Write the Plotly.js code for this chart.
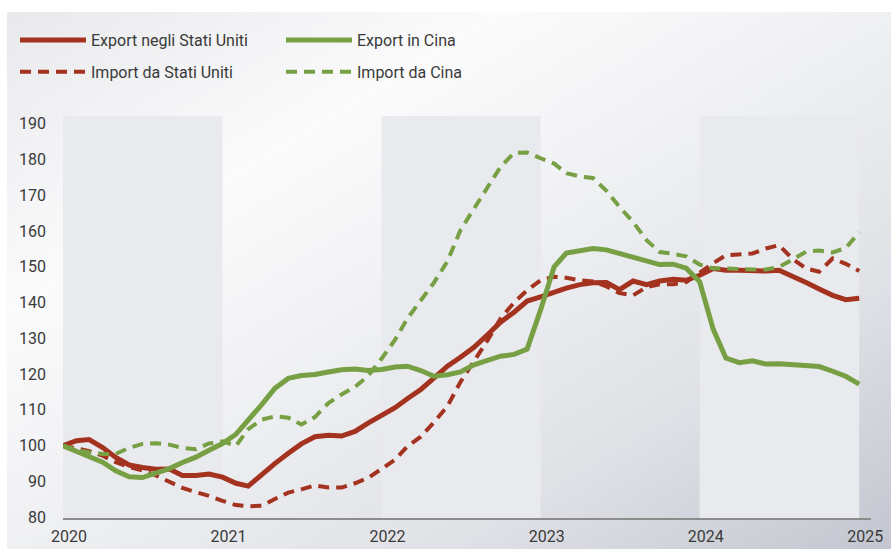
<!DOCTYPE html>
<html><head><meta charset="utf-8">
<script src="https://cdn.plot.ly/plotly-3.0.1.min.js"></script>
<style>
html,body{margin:0;padding:0;background:#fff;}
#wrap{position:relative;width:891px;height:549px;overflow:hidden;}
#bg{position:absolute;left:7px;top:12px;right:0;bottom:0;border-top-left-radius:3px;
background:linear-gradient(to bottom right,#e8e9ec 0%,#fbfbfc 28%,#eff0f2 50%,#dfe1e6 75%,#c3c6cf 100%);}
#chart{position:absolute;left:0;top:0;width:891px;height:549px;}
</style></head>
<body><div id="wrap"><div id="bg"></div><div id="chart"></div></div>
<script>
const months = [
"2020-01-01","2020-02-01","2020-03-01","2020-04-01","2020-05-01","2020-06-01","2020-07-01","2020-08-01","2020-09-01","2020-10-01","2020-11-01","2020-12-01",
"2021-01-01","2021-02-01","2021-03-01","2021-04-01","2021-05-01","2021-06-01","2021-07-01","2021-08-01","2021-09-01","2021-10-01","2021-11-01","2021-12-01",
"2022-01-01","2022-02-01","2022-03-01","2022-04-01","2022-05-01","2022-06-01","2022-07-01","2022-08-01","2022-09-01","2022-10-01","2022-11-01","2022-12-01",
"2023-01-01","2023-02-01","2023-03-01","2023-04-01","2023-05-01","2023-06-01","2023-07-01","2023-08-01","2023-09-01","2023-10-01","2023-11-01","2023-12-01",
"2024-01-01","2024-02-01","2024-03-01","2024-04-01","2024-05-01","2024-06-01","2024-07-01","2024-08-01","2024-09-01","2024-10-01","2024-11-01","2024-12-01",
"2025-01-01"];

const exportUS = [100,101.4,101.7,99.5,96.7,94.6,93.9,93.4,93.5,91.7,91.7,92.1,
91.2,89.5,88.7,92,95,97.9,100.5,102.5,102.9,102.7,104,106.3,
108.6,110.6,113.1,115.7,118.9,122.2,124.7,127.5,131,134.5,137.3,140.4,
141.6,143,144,145,145.5,145.6,143.6,146,145,146,146.5,146.2,
147.6,149.5,149,149,148.8,148.8,149,147.4,145.6,143.8,142,140.8,141.2];

const importUS = [100,99.3,98.5,97.2,95.4,94,93.1,91.7,90,88.2,87,86,
84.6,83.4,83.1,83.2,85.1,86.9,87.8,88.9,88.3,88.3,89.5,91,
93.5,96.1,99.8,102.5,106.5,111,117.8,123.4,129.4,135.5,140,143.4,
146.2,147.2,146.9,146.2,145.9,144.5,142.6,142,144.3,145.1,145.1,145.7,
148.5,151,153.2,153.5,153.7,155.1,156,152.2,149.5,148.6,152.3,150.8,148.8];

const exportCN = [100,98.4,97,95.4,93,91.3,91.1,92.4,93.6,95.3,96.8,98.7,
100.6,103.2,107,111.5,116,118.8,119.6,119.9,120.6,121.2,121.4,121,
121.3,122,122.2,121,119.4,119.8,120.6,122.6,123.8,125,125.5,127,
138,150,153.8,154.4,155.1,154.7,153.7,152.7,151.5,150.6,150.7,149.6,
145.8,132.5,124.5,123.2,123.7,122.8,122.9,122.6,122.3,122.1,120.8,119.4,117.2];

const importCN = [100,98.8,98.2,97.7,97.7,99.4,100.5,100.7,100.3,99.4,99,100.6,
101.2,100,104.6,107.3,108.2,107.8,105.9,108,111.9,114.3,116.4,119.5,
124.3,129.6,135.5,140.4,145.5,151.5,160.2,166.2,172.3,177.9,181.8,181.9,
180.3,178.8,176.1,175.2,174.8,171.2,166.7,162.5,157.4,154.1,153.6,152.9,
150.6,149.5,149.5,149.3,149.2,149.2,149.9,152,154.2,154.5,154,155.2,159.6];

const yearTicks = ["2020-01-01","2021-01-01","2022-01-01","2023-01-01","2024-01-01","2025-01-01"];
const yearLabels = ["2020","2021","2022","2023","2024","2025"];
const yTicks = [80,90,100,110,120,130,140,150,160,170,180,190];
const bandStarts = ["2020-01-01","2022-01-01","2024-01-01"];
const bandEnds = ["2021-01-01","2023-01-01","2025-01-01"];

const RED = '#a3321f', GREEN = '#77a044';
const FONT = 'Roboto, "Noto Sans", sans-serif';
const TXT = '#3a3a3a';

const traces = [
  {x: months, y: exportUS, name: 'Export negli Stati Uniti', type: 'scatter', mode: 'lines',
   line: {color: RED, width: 5}, legend: 'legend', legendgroup: 'a'},
  {x: months, y: importUS, name: 'Import da Stati Uniti', type: 'scatter', mode: 'lines',
   line: {color: RED, width: 4, dash: '11px,7px'}, legend: 'legend', legendgroup: 'b'},
  {x: months, y: exportCN, name: 'Export in Cina', type: 'scatter', mode: 'lines',
   line: {color: GREEN, width: 5}, legend: 'legend2', legendgroup: 'c'},
  {x: months, y: importCN, name: 'Import da Cina', type: 'scatter', mode: 'lines',
   line: {color: GREEN, width: 4, dash: '11px,7px'}, legend: 'legend2', legendgroup: 'd'}
];

const shapes = bandStarts.map((s, i) => ({
  type: 'rect', xref: 'x', yref: 'paper', x0: s, x1: bandEnds[i], y0: 0, y1: 1,
  fillcolor: '#e9eaee', line: {width: 0}, layer: 'below'
}));

const legendBase = {
  xref: 'container', yref: 'container', xanchor: 'left', yanchor: 'top',
  bgcolor: 'rgba(0,0,0,0)', borderwidth: 0, itemwidth: 66, tracegroupgap: 8,
  font: {family: FONT, size: 16, color: TXT}, itemclick: false, itemdoubleclick: false
};

const layout = {
  width: 891, height: 549,
  margin: {l: 63, r: 20, t: 116, b: 31, pad: 0, autoexpand: false},
  paper_bgcolor: 'rgba(0,0,0,0)', plot_bgcolor: 'rgba(0,0,0,0)',
  font: {family: FONT, size: 16, color: TXT},
  showlegend: true,
  legend: Object.assign({}, legendBase, {x: 15/891, y: 1 - 23/549}),
  legend2: Object.assign({}, legendBase, {x: 281/891, y: 1 - 23/549}),
  xaxis: {type: 'date', range: ['2020-01-01', '2025-01-28'], tickvals: yearTicks, ticktext: yearLabels,
          showgrid: false, zeroline: false, showline: true, linecolor: '#8c8c8c', linewidth: 2,
          ticks: '', ticklabelshift: 6, ticklabelstandoff: 3, tickfont: {family: FONT, size: 16, color: TXT}},
  yaxis: {range: [79.8, 192.1], tickvals: yTicks, showgrid: false, zeroline: false, showline: false,
          ticks: '', ticklabelstandoff: 16, tickfont: {family: FONT, size: 16, color: TXT}},
  shapes: shapes
};

Plotly.newPlot('chart', traces, layout, {displayModeBar: false, staticPlot: true});
</script>
</body></html>
